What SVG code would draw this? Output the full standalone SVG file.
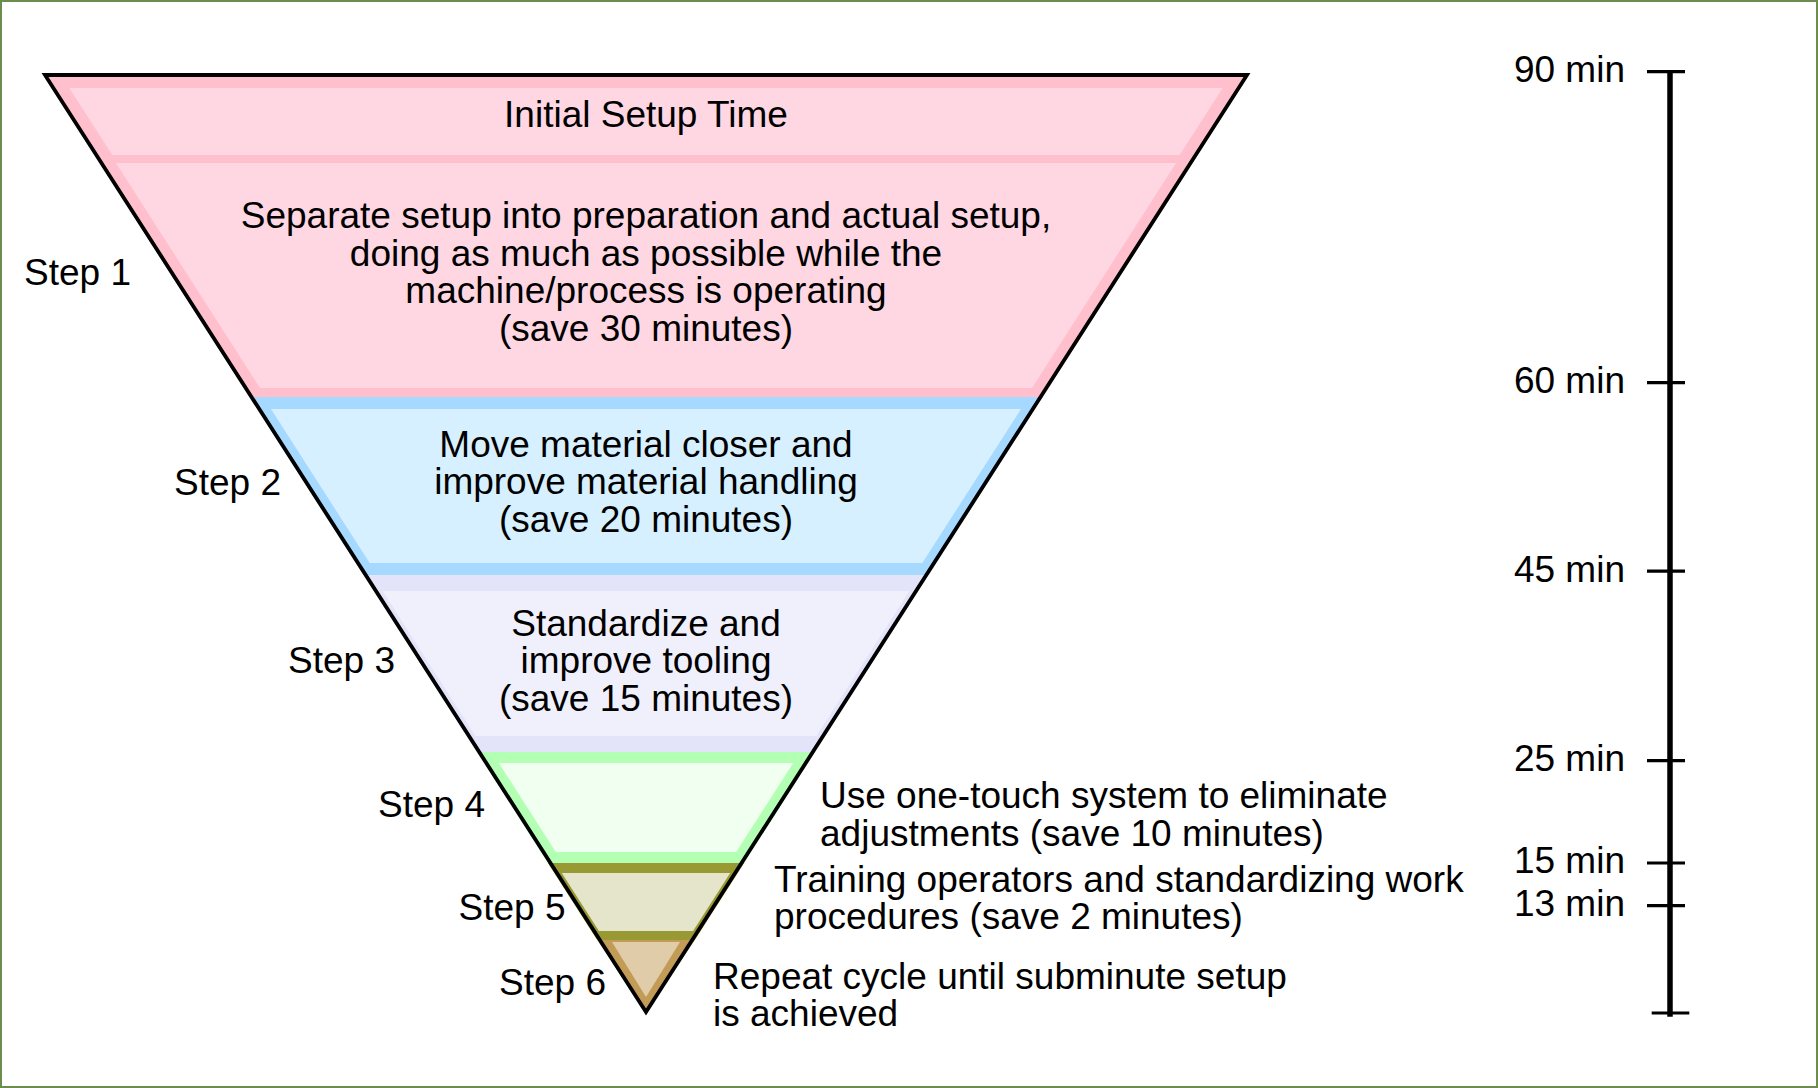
<svg xmlns="http://www.w3.org/2000/svg" width="1818" height="1088" viewBox="0 0 1818 1088">
<style>
text{font-family:"Liberation Sans",Arial,sans-serif;font-size:37px;fill:#000}
.c{text-anchor:middle}
.e{text-anchor:end}
.tick{stroke:#000;stroke-width:3.2}
</style>
<rect x="1" y="1" width="1816" height="1086" fill="#fff" stroke="#6B8E4E" stroke-width="2"/>
<g id="band-initial">
<polygon points="43,75 1249,75 1195,159 97,159" fill="#FFBFCC"/>
<polygon points="69.3,88 1222.7,88 1179.7,155 112.3,155" fill="#FFD7E2"/>
<text class="c" x="646" y="127">Initial Setup Time</text>
</g>
<g id="band-step1">
<polygon points="97,159 1195,159 1042.7,397 249.3,397" fill="#FFBFCC"/>
<polygon points="115.9,163 1176.1,163 1032,388 260,388" fill="#FFD7E2"/>
<text class="c" x="646" y="228">Separate setup into preparation and actual setup,</text>
<text class="c" x="646" y="265.5">doing as much as possible while the</text>
<text class="c" x="646" y="303">machine/process is operating</text>
<text class="c" x="646" y="340.5">(save 30 minutes)</text>
</g>
<g id="band-step2">
<polygon points="249.3,397 1042.7,397 928.6,575 363.4,575" fill="#A6D9FF"/>
<polygon points="271,409 1021,409 922.3,563 369.7,563" fill="#D7F0FF"/>
<text class="c" x="646" y="456.7">Move material closer and</text>
<text class="c" x="646" y="493.5">improve material handling</text>
<text class="c" x="646" y="531.5">(save 20 minutes)</text>
</g>
<g id="band-step3">
<polygon points="363.4,575 928.6,575 815.2,752 476.8,752" fill="#E3E3FA"/>
<polygon points="382.6,591 909.4,591 816.5,736 475.5,736" fill="#F0F0FD"/>
<text class="c" x="646" y="636">Standardize and</text>
<text class="c" x="646" y="673">improve tooling</text>
<text class="c" x="646" y="710.7">(save 15 minutes)</text>
</g>
<g id="band-step4">
<polygon points="476.8,752 815.2,752 744.1,863 547.9,863" fill="#B3FFB3"/>
<polygon points="498.8,763 793.2,763 736.2,852 555.8,852" fill="#F0FFF0"/>
</g>
<g id="band-step5">
<polygon points="547.9,863 744.1,863 694.8,940 597.2,940" fill="#999933"/>
<polygon points="561.8,873 730.2,873 693.1,931 598.9,931" fill="#E5E5CC"/>
</g>
<g id="band-step6">
<polygon points="597.2,940 694.8,940 646,1013" fill="#C29B57"/>
<polygon points="612,942 680,942 646,997" fill="#E0CCA8"/>
</g>
<g id="funnel-outline">
<polygon points="45,75 1247,75 646,1012" fill="none" stroke="#000" stroke-width="3.8" stroke-linejoin="miter" stroke-miterlimit="10"/>
</g>
<g id="step-labels">
<text class="c" x="77.5" y="285">Step 1</text>
<text class="c" x="227.5" y="495">Step 2</text>
<text class="c" x="341.5" y="673">Step 3</text>
<text class="c" x="431.5" y="817">Step 4</text>
<text class="c" x="512" y="920">Step 5</text>
<text class="c" x="552.5" y="995">Step 6</text>
</g>
<g id="note-step4">
<text x="820" y="808">Use one-touch system to eliminate</text>
<text x="820" y="846">adjustments (save 10 minutes)</text>
</g>
<g id="note-step5">
<text x="774" y="891.7">Training operators and standardizing work</text>
<text x="774" y="928.5">procedures (save 2 minutes)</text>
</g>
<g id="note-step6">
<text x="713" y="989.3">Repeat cycle until subminute setup</text>
<text x="713" y="1025.5">is achieved</text>
</g>
<g id="time-axis">
<line x1="1670" y1="73" x2="1670" y2="1016.7" stroke="#000" stroke-width="5.5"/>
<line class="tick" x1="1647" y1="71.7" x2="1685" y2="71.7"/>
<line class="tick" x1="1647" y1="382.7" x2="1685" y2="382.7"/>
<line class="tick" x1="1647" y1="571.2" x2="1685" y2="571.2"/>
<line class="tick" x1="1647" y1="760.6" x2="1685" y2="760.6"/>
<line class="tick" x1="1647" y1="863" x2="1685" y2="863"/>
<line class="tick" x1="1647" y1="905.7" x2="1685" y2="905.7"/>
<line class="tick" x1="1651.7" y1="1013" x2="1689.3" y2="1013"/>
<text class="e" x="1625" y="81.7">90 min</text>
<text class="e" x="1625" y="392.7">60 min</text>
<text class="e" x="1625" y="581.7">45 min</text>
<text class="e" x="1625" y="770.7">25 min</text>
<text class="e" x="1625" y="873">15 min</text>
<text class="e" x="1625" y="915.5">13 min</text>
</g>
</svg>
